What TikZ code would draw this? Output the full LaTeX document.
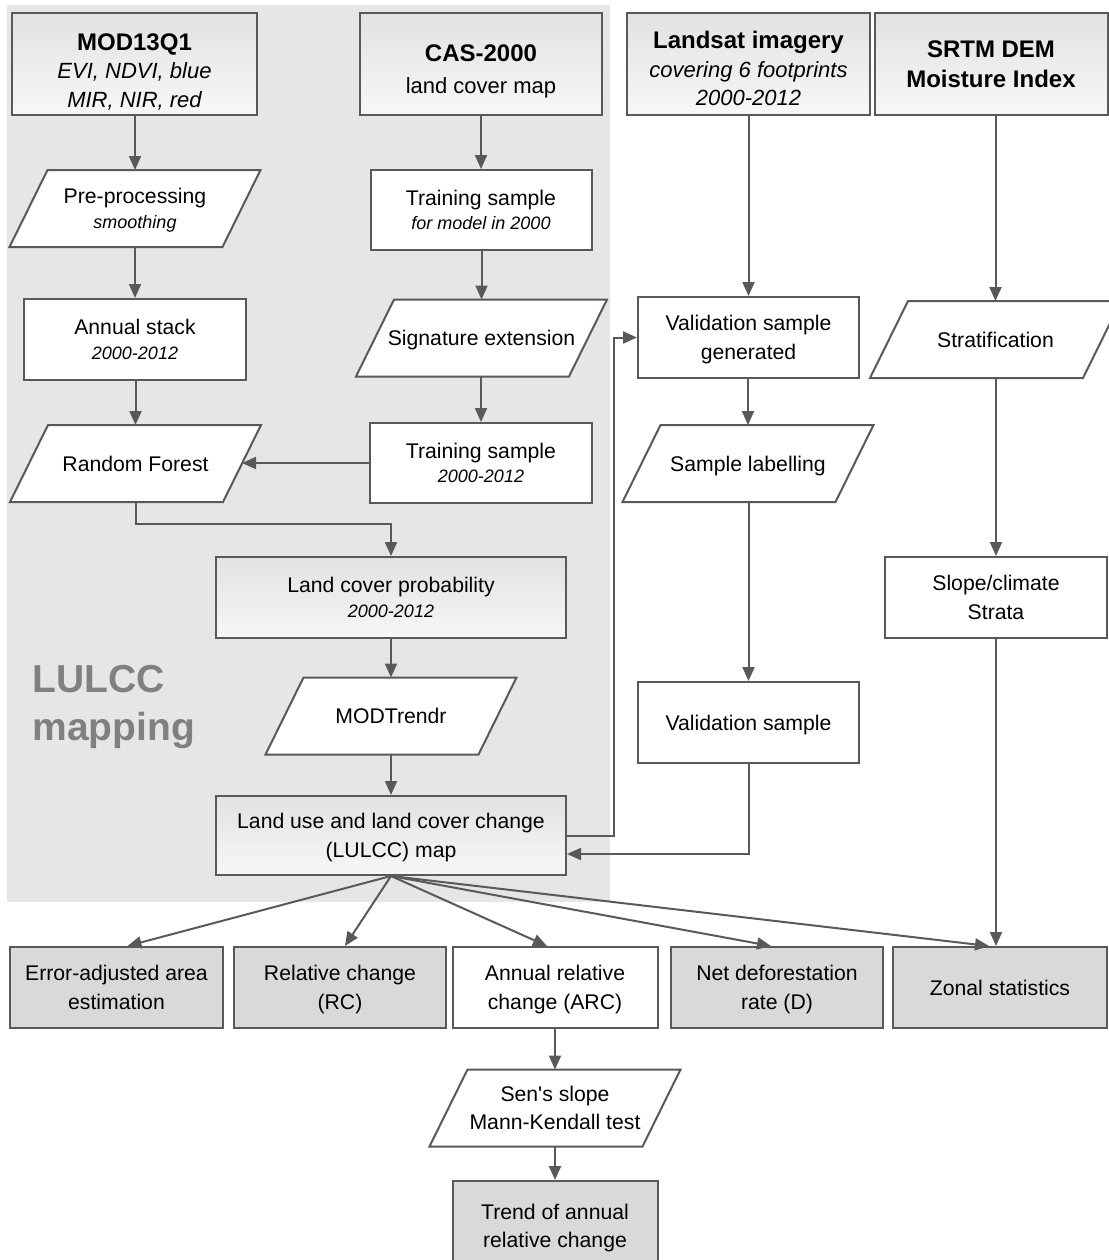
\documentclass[tikz,border=0pt]{standalone}
\usepackage{fontspec}
\setmainfont{Liberation Sans}[Ligatures=TeXOff]
\usetikzlibrary{arrows.meta,calc}
\pgfdeclarelayer{back}
\pgfdeclarelayer{mid}
\pgfsetlayers{back,mid,main}
\definecolor{ln}{HTML}{595959}
\definecolor{bgg}{HTML}{E6E6E6}
\definecolor{boxg}{HTML}{D9D9D9}
\definecolor{gtop}{HTML}{E2E2E2}
\definecolor{gbot}{HTML}{F7F7F7}
\definecolor{lblg}{HTML}{808080}
\newcommand\ttl[1]{{\fontsize{12}{15}\selectfont\bfseries #1}}
\newcommand\smi[1]{{\fontsize{9}{12}\selectfont\itshape #1}}
\newcommand\mdi[1]{{\fontsize{11}{14.5}\selectfont\itshape #1}}
\newcommand\paradraw[1]{%
  \draw[line, fill=white] ($(#1.south west)+(-19,0)$) -- ($(#1.south east)+(-19,0)$) --
    ($(#1.north east)+(19,0)$) -- ($(#1.north west)+(19,0)$) -- cycle;}
\tikzset{
  line/.style={draw=ln, line width=1pt},
  arr/.style={line, -{Triangle[length=7pt,width=6pt]}},
  base/.style={align=center, inner sep=2pt, text=black, text depth=0pt,
    font=\fontsize{10.6}{14.3}\selectfont},
  rbox/.style 2 args={base, line, rectangle, fill=white,
    minimum width=#1*0.5pt, minimum height=#2*0.5pt},
  gbox/.style 2 args={rbox={#1}{#2}, top color=gtop, bottom color=gbot},
  dbox/.style 2 args={rbox={#1}{#2}, fill=boxg},
  para/.style={base, rectangle, inner sep=0pt, outer sep=0pt,
    minimum width=213*0.5pt, minimum height=77*0.5pt},
  bigl/.style={align=left, inner sep=0pt, text=lblg,
    font=\fontsize{19.5}{24}\selectfont\bfseries}
}
\begin{document}
\begin{tikzpicture}[x=0.5pt,y=-0.5pt]
\useasboundingbox (0,0) rectangle (1109,1260);
\clip (0,0) rectangle (1109,1260);
\begin{pgfonlayer}{back}
  \fill[bgg] (7,5) rectangle (610,902);
\end{pgfonlayer}

% top row
\node[gbox={245}{102}] (mod) at (134.5,64) {\ttl{\rule{0pt}{14.7pt}MOD13Q1}\\ \mdi{EVI, NDVI, blue}\\ \mdi{MIR, NIR, red}};
\node[gbox={242}{102}] (cas) at (481,64) {\ttl{\rule{0pt}{13.6pt}CAS-2000}\\[2pt] {\fontsize{11}{14}\selectfont land cover map}};
\node[gbox={243}{102}] (lsat) at (748.5,64) {\ttl{\rule{0pt}{13.3pt}Landsat imagery}\\ \mdi{covering 6 footprints}\\ \mdi{2000-2012}};
\node[gbox={233}{102}] (srtm) at (991,64) {\ttl{SRTM DEM}\\[1pt] \ttl{Moisture Index}};

% LULCC mapping column
\node[para] (pre) at (135,208.5) {Pre-processing\\[-2pt] \smi{smoothing}};
\node[rbox={221}{80}] (ts1) at (481,210) {Training sample\\[-2pt] \smi{for model in 2000}};
\node[rbox={222}{81}] (ast) at (135,339.5) {Annual stack\\[-2pt] \smi{2000-2012}};
\node[para] (sig) at (481.5,338) {Signature extension};
\node[para] (rf) at (135.5,463.5) {Random Forest};
\node[rbox={222}{80}] (ts2) at (481,463) {Training sample\\[-2pt] \smi{2000-2012}};
\node[gbox={350}{81}] (lcp) at (391,597.5) {Land cover probability\\[-2pt] \smi{2000-2012}};
\node[para] (mtr) at (391,716) {MODTrendr};
\node[gbox={350}{79}] (lulcc) at (391,835.5) {Land use and land cover change\\ (LULCC) map};

\node[bigl, anchor=base west] (lbl) at (32,740) {LULCC\\mapping};

% validation column
\node[rbox={221}{81}] (vg) at (748.5,337.5) {Validation sample\\ generated};
\node[para] (sl) at (748,463.5) {Sample labelling};
\node[rbox={221}{81}] (vs) at (748.5,722.5) {Validation sample};

% strata column
\node[para] (strat) at (995.5,339.5) {Stratification};
\node[rbox={222}{81}] (slope) at (996,597.5) {Slope/climate\\ Strata};

% bottom row
\node[dbox={213}{81}] (err) at (116.5,987.5) {Error-adjusted area\\ estimation};
\node[dbox={212}{81}] (rc) at (340,987.5) {Relative change\\ (RC)};
\node[rbox={205}{81}] (arc) at (555,987.5) {Annual relative\\ change (ARC)};
\node[dbox={212}{81}] (net) at (777,987.5) {Net deforestation\\ rate (D)};
\node[dbox={214}{81}] (zon) at (1000,987.5) {Zonal statistics};
\node[para] (sen) at (555,1108) {Sen's slope\\ Mann-Kendall test};
\node[dbox={205}{90}] (trend) at (555,1226) {Trend of annual\\ relative change};

\begin{pgfonlayer}{mid}
  \paradraw{pre}
  \paradraw{sig}
  \paradraw{rf}
  \paradraw{mtr}
  \paradraw{sl}
  \paradraw{strat}
  \paradraw{sen}
\end{pgfonlayer}

% connectors
\draw[arr] (mod.south -| pre.north) -- (pre.north);
\draw[arr] (pre.south -| ast.north) -- (ast.north);
\draw[arr] (ast.south -| rf.north) -- (rf.north);
\draw[arr] (cas.south -| ts1.north) -- (ts1.north);
\draw[arr] (ts1.south -| sig.north) -- (sig.north);
\draw[arr] (sig.south -| ts2.north) -- (ts2.north);
\draw[arr] (ts2.west) -- (ts2.west -| rf.east);
\draw[arr] (rf.south) -- ++(0,22) -| (lcp.north);
\draw[arr] (lcp.south -| mtr.north) -- (mtr.north);
\draw[arr] (mtr.south -| lulcc.north) -- (lulcc.north);
\draw[arr] (lulcc.east) -- ++(47,0) |- (vg.west);
\draw[arr] (lsat.south -| vg.north) -- (vg.north);
\draw[arr] (vg.south -| sl.north) -- (sl.north);
\draw[arr] (sl.south -| vs.north) -- (vs.north);
\draw[arr] (vs.south) |- ($(lulcc.east)+(0,18.5)$);
\draw[arr] (srtm.south -| strat.north) -- (strat.north);
\draw[arr] (strat.south -| slope.north) -- (slope.north);
\draw[arr] (slope.south) -- (slope.south |- zon.north);
\draw[arr] (lulcc.south) -- ($(err.north)+(11,0)$);
\draw[arr] (lulcc.south) -- ($(rc.north)+(5,0)$);
\draw[arr] (lulcc.south) -- ($(arc.north)+(-8,0)$);
\draw[arr] (lulcc.south) -- ($(net.north)+(-6,0)$);
\draw[arr] (lulcc.south) -- ($(zon.north)+(-11,0)$);
\draw[arr] (arc.south -| sen.north) -- (sen.north);
\draw[arr] (sen.south -| trend.north) -- (trend.north);
\end{tikzpicture}
\end{document}
